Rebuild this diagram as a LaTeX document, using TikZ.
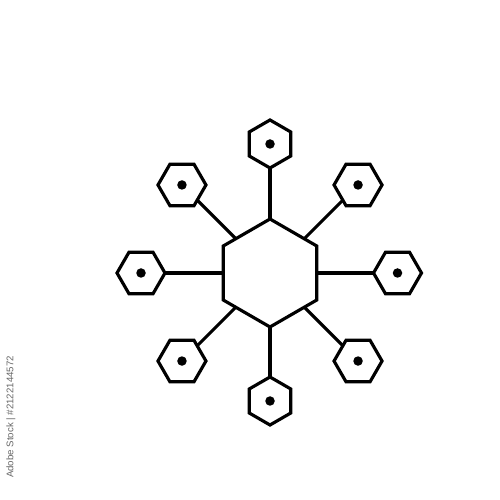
\documentclass[tikz,border=0pt]{standalone}
\usepackage{fontspec}
\setsansfont{Liberation Sans}
\usetikzlibrary{shapes.geometric}

\tikzset{
  hexbox/.style={draw,regular polygon,regular polygon sides=6,inner sep=0pt,outer sep=0pt,line width=1.8pt},
  hubhex/.style={hexbox,minimum size=2.16cm,shape border rotate=30},
  leafhex/.style={hexbox,minimum size=0.96cm},
  spoke/.style={line width=1.8pt}
}

\begin{document}
\begin{tikzpicture}
            \useasboundingbox (0,0) rectangle (10,10);

            \node[hubhex] (hub) at (5.4,4.54) {};

            \foreach \a/\d/\r in {0/2.55/0,45/2.49/0,90/2.58/30,135/2.49/0,180/2.58/0,225/2.49/0,270/2.56/30,315/2.49/0}{
              \path (hub.center) ++(\a:\d) node[leafhex,shape border rotate=\r] (leaf\a) {};
              \fill (leaf\a.center) circle (0.095);
              \draw[spoke] (hub) -- (leaf\a);
            }

            \node[rotate=90,text=black!60,font=\sffamily\fontsize{5.5pt}{6pt}\selectfont] (stock) at (0.22,1.66) {Adobe Stock | \#2122144572};
        \end{tikzpicture}
\end{document}
